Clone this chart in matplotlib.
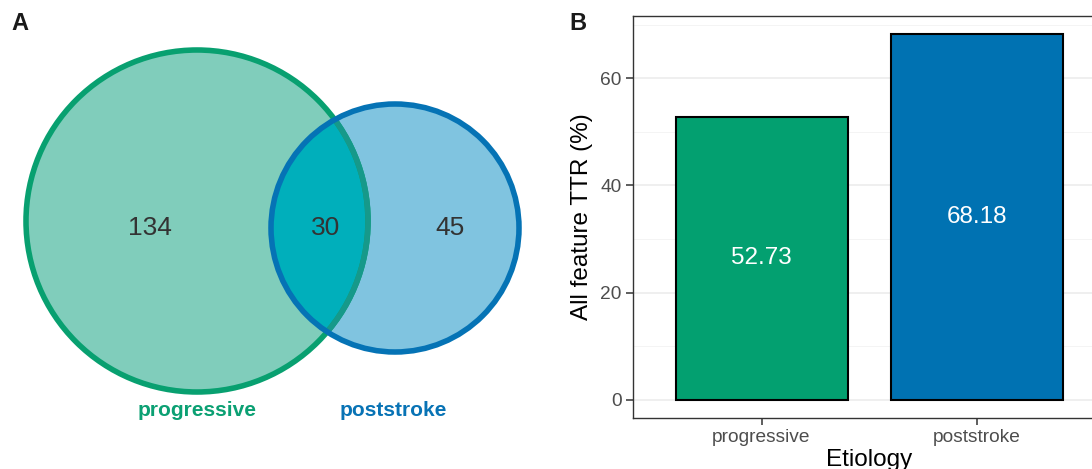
import matplotlib
matplotlib.use("Agg")
import matplotlib.pyplot as plt
from matplotlib.patches import Circle
import numpy as np

plt.rcParams['font.family'] = ['Liberation Sans', 'DejaVu Sans']

# venn counts
set_names = ["progressive", "poststroke"]
only_a, both, only_b = 134, 30, 45

# bar data
etiology = ["progressive", "poststroke"]
ttr = [52.73, 68.18]
bar_colors = ["#03A070", "#0072B2"]

W, H = 1092, 469
fig = plt.figure(figsize=(W / 100, H / 100), dpi=100)

# ---- panel A: venn (axes in pixel units)
axv = fig.add_axes([0, 0, 560 / W, 1])
axv.set_xlim(0, 560)
axv.set_ylim(H, 0)
axv.axis("off")

green_c, green_r = (197, 221), 171
blue_c, blue_r = (395, 228), 124

g_fill = Circle(green_c, green_r, facecolor="#80CDBB", edgecolor="none", zorder=1)
b_fill = Circle(blue_c, blue_r, facecolor="#80C4E0", edgecolor="none", zorder=2)
axv.add_patch(g_fill)
axv.add_patch(b_fill)
inter = Circle(blue_c, blue_r, facecolor="#00AFBB", edgecolor="none", zorder=3)
axv.add_patch(inter)
inter.set_clip_path(g_fill)

g_edge = Circle(green_c, green_r, facecolor="none", edgecolor="#08A070", lw=4, zorder=4)
axv.add_patch(g_edge)
g_edge2 = Circle(green_c, green_r, facecolor="none", edgecolor="#16998A", lw=4, zorder=5)
axv.add_patch(g_edge2)
g_edge2.set_clip_path(Circle(blue_c, blue_r, transform=axv.transData))
b_edge = Circle(blue_c, blue_r, facecolor="none", edgecolor="#0573B5", lw=4, zorder=6)
axv.add_patch(b_edge)

axv.text(150, 228, str(only_a), ha="center", va="center", fontsize=19, color="#333333", zorder=7)
axv.text(326, 228, str(both), ha="center", va="center", fontsize=19, color="#333333", zorder=7)
axv.text(450, 228, str(only_b), ha="center", va="center", fontsize=19, color="#333333", zorder=7)
axv.text(197, 410, set_names[0], ha="center", va="center", fontsize=15,
         fontweight="bold", color="#0BA073")
axv.text(393, 410, set_names[1], ha="center", va="center", fontsize=15,
         fontweight="bold", color="#0873B5")
axv.text(20, 23, "A", ha="center", va="center", fontsize=17, fontweight="bold", color="#1a1a1a")

# ---- panel B: bars
left, right, top, bottom = 632.5, 1105.5, 16, 418
axb = fig.add_axes([left / W, (H - bottom) / H, (right - left) / W, (bottom - top) / H])
x = np.arange(1, len(etiology) + 1)
axb.bar(x, ttr, width=0.8, color=bar_colors, edgecolor="black", linewidth=1.5, zorder=3)
for xi, v in zip(x, ttr):
    axb.text(xi, v / 2, f"{v:.2f}", ha="center", va="center", color="white", fontsize=17.5, zorder=4)

ymax = max(ttr)
axb.set_xlim(0.4, len(etiology) + 0.6)
axb.set_ylim(-0.05 * ymax, 1.05 * ymax)
axb.set_yticks([0, 20, 40, 60])
axb.set_yticks([10, 30, 50, 70], minor=True)
axb.set_xticks(x)
axb.set_xticklabels(etiology)
axb.grid(axis="y", which="major", color="#EBEBEB", lw=1.1, zorder=0)
axb.grid(axis="y", which="minor", color="#F3F3F3", lw=0.6, zorder=0)
axb.tick_params(axis="both", which="major", colors="#333333", labelcolor="#4D4D4D",
                labelsize=13.8, length=5, width=1.1, pad=3)
axb.tick_params(axis="y", which="minor", length=0)
for s in axb.spines.values():
    s.set_color("#333333")
    s.set_linewidth(1.0)
axb.set_ylabel("All feature TTR (%)", fontsize=17.5, color="black", labelpad=5)
axb.set_xlabel("Etiology", fontsize=17.5, color="black", labelpad=2)
fig.text(578 / W, 1 - 23 / H, "B", ha="center", va="center", fontsize=17,
         fontweight="bold", color="#1a1a1a")

fig.savefig("out.png", dpi=100)
